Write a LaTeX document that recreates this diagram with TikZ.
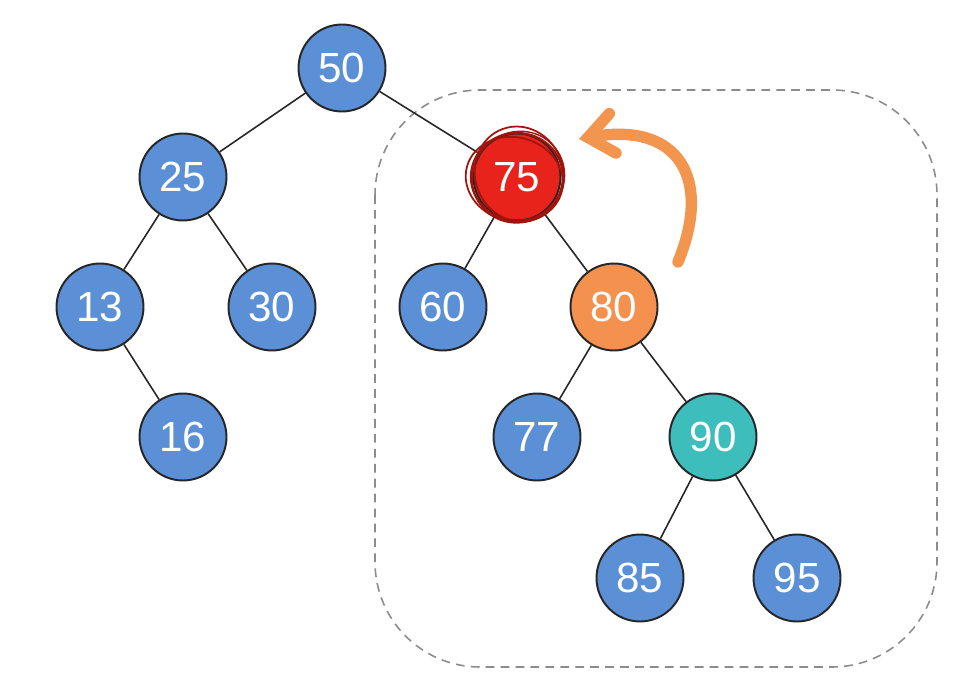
\documentclass[tikz,border=0pt]{standalone}
\usepackage{fontspec}
\setmainfont{Liberation Sans}
\usepackage{xcolor}
\usetikzlibrary{arrows.meta,calc}

\definecolor{nodeblue}{HTML}{5B8FD6}
\definecolor{nodeorange}{HTML}{F4914E}
\definecolor{nodeteal}{HTML}{3DBDBB}
\definecolor{nodered}{HTML}{E8231C}
\definecolor{scribred}{HTML}{A0140C}
\definecolor{arroworange}{HTML}{F2964F}
\definecolor{boxgray}{HTML}{8C8C8C}

\tikzset{
    tnode/.style={circle, draw=black!85, line width=1.1pt, minimum size=1.74cm, inner sep=0pt,
        text=white, font=\fontsize{24}{28}\selectfont},
    tedge/.style={line width=0.9pt, black!85},
    subbox/.style={dashed, boxgray, line width=0.9pt, dash pattern=on 5pt off 3.5pt, rounded corners=2.1cm}
}

\begin{document}
\begin{tikzpicture}[x=0.02cm, y=-0.02cm]
    \useasboundingbox (0,0) rectangle (974,699);

    % subtree box
    \draw [subbox] (375,90) rectangle (937,667);

    % Nodes
    \foreach \name/\x/\y/\col in {50/342/68/nodeblue, 25/183/177/nodeblue, 75/517/177/nodered,
        13/100/307/nodeblue, 30/272/307/nodeblue, 60/443/307/nodeblue, 80/614/307/nodeorange,
        16/183/437/nodeblue, 77/537/437/nodeblue, 90/713/437/nodeteal,
        85/640/578/nodeblue, 95/797/578/nodeblue}
        \node [tnode, fill=\col] (n\name) at (\x,\y) {\name};

    % Edges
    \foreach \a/\b in {50/25, 50/75, 25/13, 25/30, 13/16, 75/60, 75/80, 80/77, 80/90, 90/85, 90/95}
        \draw [tedge] (n\a) -- (n\b);

    % scribbles on the removed node
    \draw [scribred, line width=1.3pt] (n75.center) ellipse [x radius=46, y radius=44];
    \draw [scribred, line width=1pt, rotate around={20:(n75.center)}] ($(n75.center)+(3,-2)$) ellipse [x radius=44, y radius=48];
    \draw [scribred, line width=1pt, rotate around={-15:(n75.center)}] ($(n75.center)+(-2,3)$) ellipse [x radius=49, y radius=42];
    \draw [scribred, line width=0.8pt, rotate around={40:(n75.center)}] ($(n75.center)+(1,1)$) ellipse [x radius=47, y radius=45];

    % replacement arrow
    \coordinate (arrfrom) at (678,262);
    \coordinate (arrto) at (579,139);
    \draw [arroworange, line width=6.5pt, line cap=round, line join=round,
        -{Straight Barb[length=0.5cm, width=0.8cm, line cap=round]}]
        (arrfrom) .. controls (712,180) and (680,122) .. (arrto);
\end{tikzpicture}
\end{document}
